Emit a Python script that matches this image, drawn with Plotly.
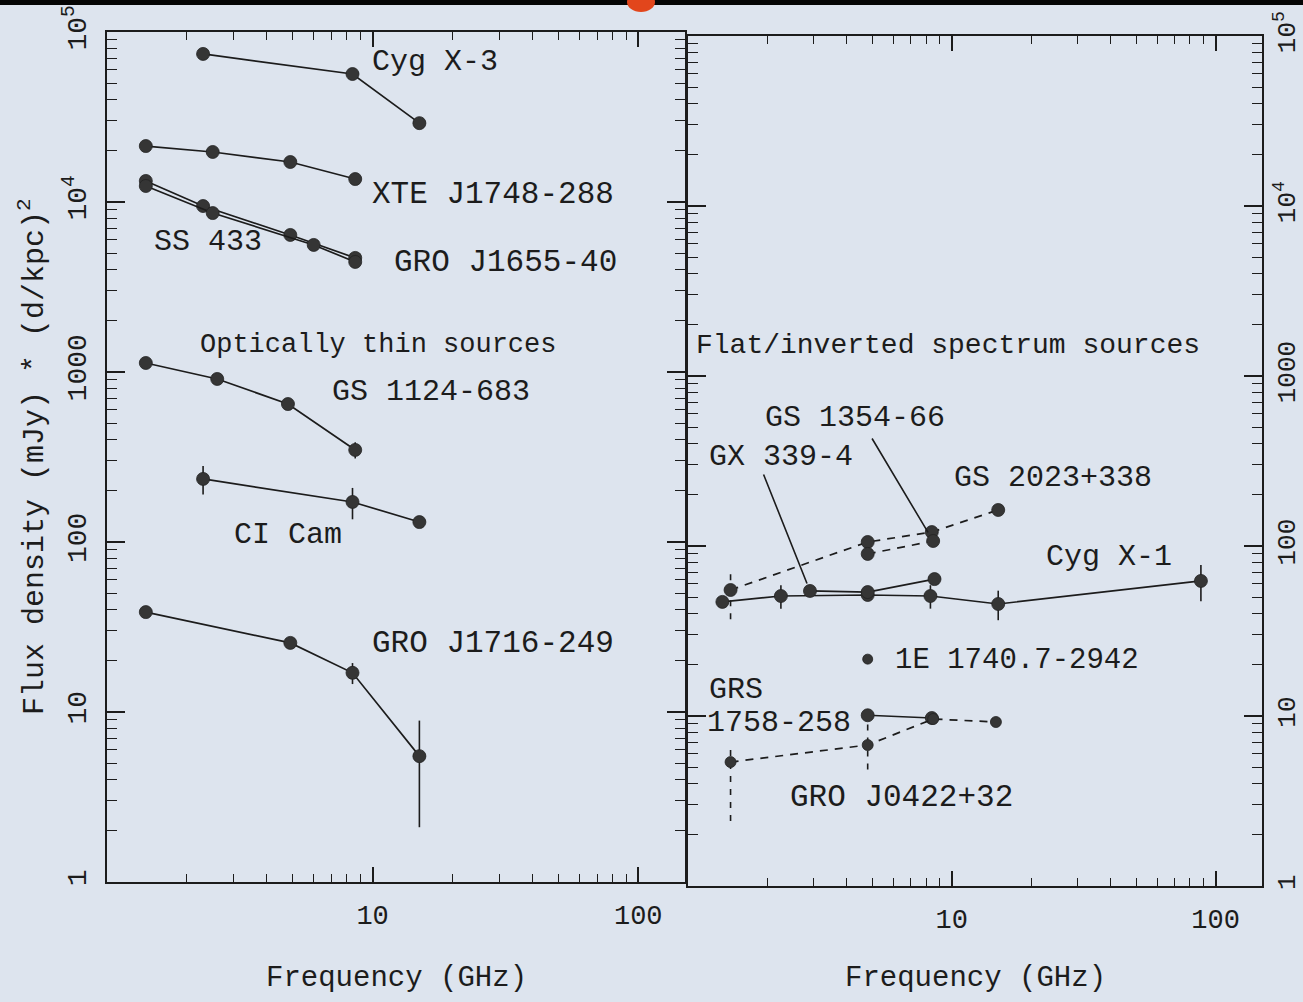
import numpy as np
import plotly.graph_objects as go

W, H = 1303, 1002
INK = "#1c1c1c"
DOT = "#353535"
PAPER = "#dde4ee"
FONT = "Liberation Mono, Courier New, monospace"

# ---------------- optically thin sources (left panel) ----------------
# frequency in GHz, flux density in mJy * (d/kpc)^2
cygx3_f = [2.3, 8.4, 15]
cygx3_s = [74300, 56600, 29100]

xte1748_f = [1.4, 2.5, 4.9, 8.6]
xte1748_s = [21340, 19690, 17190, 13650]

ss433_f = [1.4, 2.3, 4.9, 8.6]
ss433_s = [13300, 9470, 6400, 4690]

gro1655_f = [1.4, 2.5, 6.0, 8.6]
gro1655_s = [12420, 8610, 5590, 4440]

gs1124_f = [1.4, 2.6, 4.8, 8.6]
gs1124_s = [1130, 910, 648, 348]
gs1124_e = [0, 0, 0, 38]

cicam_f = [2.3, 8.4, 15]
cicam_s = [235, 172, 131]
cicam_e = [45, 36, 0]

gro1716_f = [1.4, 4.9, 8.4, 15]
gro1716_s = [38.7, 25.5, 17.0, 5.5]
gro1716_e = [3.0, 0, 2.4, 3.4]

# ---------------- flat / inverted spectrum sources (right panel) ----------------
cygx1_f = [1.35, 2.25, 4.8, 8.3, 15, 88]
cygx1_s = [46.9, 50.8, 51.5, 50.8, 45.6, 62.3]
cygx1_e = [0, 8, 0, 8, 9, 15]

gx339_f = [2.9, 4.8, 8.6]
gx339_s = [54.4, 53.6, 63.9]

gs2023_f = [1.45, 4.8, 8.4, 15]
gs2023_s = [55.1, 105.6, 120.8, 162.9]
gs2023_ep = [18, 0, 0, 0]
gs2023_em = [18, 0, 0, 0]

gs1354_f = [4.8, 8.5]
gs1354_s = [89.8, 107]

e1740_f = [4.8]
e1740_s = [21.6]

grs1758_f = [4.8, 8.4]
grs1758_s = [10.1, 9.73]

gro0422_f = [1.45, 4.8, 8.5, 14.7]
gro0422_s = [5.36, 6.75, 9.6, 9.22]
gro0422_ep = [1.5, 2.2, 0, 0]
gro0422_em = [2.95, 1.9, 0, 0]

y_ticks = [1, 10, 100, 1000, 1e4, 1e5]
y_text = ["1", "10", "100", "1000", "10<sup>4</sup>", "10<sup>5</sup>"]
x_ticks = [10, 100]
x_text = ["10", "100"]

fig = go.Figure()


def add_series(f, s, xa, ya, dash="solid", err=None, size=13, show_line=True):
    tr = dict(
        x=f, y=s, xaxis=xa, yaxis=ya,
        mode="lines+markers" if show_line else "markers",
        line=dict(color=INK, width=1.7, dash=dash),
        marker=dict(color=DOT, size=size, line=dict(width=0.8, color="#222")),
        showlegend=False, hoverinfo="x+y",
    )
    if err is not None:
        tr["error_y"] = dict(type="data", array=err, visible=True, color=INK,
                             thickness=1.6, width=0)
    fig.add_trace(go.Scatter(**tr))


def add_dashed_errors(f, s, ep, em, xa, ya):
    # vertical dashed error bars for the dashed-line sources
    for fi, si, p, m in zip(f, s, ep, em):
        if p == 0 and m == 0:
            continue
        fig.add_trace(go.Scatter(
            x=[fi, fi], y=[si - m, si + p], xaxis=xa, yaxis=ya, mode="lines",
            line=dict(color=INK, width=1.6, dash="6px,7px"),
            showlegend=False, hoverinfo="skip"))


# left panel
add_series(cygx3_f, cygx3_s, "x", "y")
add_series(xte1748_f, xte1748_s, "x", "y")
add_series(ss433_f, ss433_s, "x", "y")
add_series(gro1655_f, gro1655_s, "x", "y")
add_series(gs1124_f, gs1124_s, "x", "y", err=gs1124_e)
add_series(cicam_f, cicam_s, "x", "y", err=cicam_e)
add_series(gro1716_f, gro1716_s, "x", "y", err=gro1716_e)

# right panel
add_dashed_errors(gs2023_f, gs2023_s, gs2023_ep, gs2023_em, "x2", "y2")
add_dashed_errors(gro0422_f, gro0422_s, gro0422_ep, gro0422_em, "x2", "y2")
add_series(cygx1_f, cygx1_s, "x2", "y2", err=cygx1_e)
add_series(gx339_f, gx339_s, "x2", "y2")
add_series(gs2023_f, gs2023_s, "x2", "y2", dash="8px,7px")
add_series(gs1354_f, gs1354_s, "x2", "y2", dash="8px,7px")
add_series(e1740_f, e1740_s, "x2", "y2", size=10, show_line=False)
add_series(grs1758_f, grs1758_s, "x2", "y2")
add_series(gro0422_f, gro0422_s, "x2", "y2", dash="8px,7px", size=11)


def xaxis_cfg(domain):
    return dict(
        type="log", range=[0, np.log10(150)], domain=domain, automargin=False,
        tickmode="array", tickvals=x_ticks, ticktext=x_text,
        ticks="inside", ticklen=15, tickwidth=1.6, tickcolor=INK,
        showline=True, linecolor=INK, linewidth=2, mirror="ticks",
        showgrid=False, zeroline=False, ticklabelstandoff=8,
        tickfont=dict(family=FONT, size=27, color=INK),
        minor=dict(ticks="inside", ticklen=8, tickwidth=1.4, tickcolor=INK,
                   dtick="D1", showgrid=False),
    )


def yaxis_cfg(domain, anchor, side, standoff, size):
    return dict(
        type="log", range=[0, 5], domain=domain, anchor=anchor, side=side,
        automargin=False,
        tickmode="array", tickvals=y_ticks, ticktext=y_text, tickangle=-90,
        ticks="inside", ticklen=18, tickwidth=1.6, tickcolor=INK,
        showline=True, linecolor=INK, linewidth=2, mirror="ticks",
        showgrid=False, zeroline=False, ticklabelstandoff=standoff,
        tickfont=dict(family=FONT, size=size, color=INK),
        minor=dict(ticks="inside", ticklen=10, tickwidth=1.4, tickcolor=INK,
                   dtick="D1", showgrid=False),
    )


def P(px, py):
    return px / W, 1 - py / H


annotations = []


def label(text, left, cy, size=30, angle=0, xanchor="left"):
    x, y = P(left, cy)
    annotations.append(dict(
        text=text, x=x, y=y, xref="paper", yref="paper", xanchor=xanchor,
        yanchor="middle", showarrow=False, textangle=angle,
        font=dict(family=FONT, size=size, color=INK)))


# left panel labels
label("Cyg X-3", 370, 62)
label("XTE J1748-288", 370, 194, size=31)
label("SS 433", 152, 242)
label("GRO J1655-40", 392, 262, size=31)
label("Optically thin sources", 198, 345, size=27)
label("GS 1124-683", 330, 392)
label("CI Cam", 232, 535)
label("GRO J1716-249", 370, 643, size=31)

# right panel labels
label("Flat/inverted spectrum sources", 694, 345, size=28)
label("GS 1354-66", 763, 418)
label("GX 339-4", 707, 457)
label("GS 2023+338", 952, 478)
label("Cyg X-1", 1044, 557)
label("1E 1740.7-2942", 893, 660, size=29)
label("GRS", 707, 690)
label("1758-258", 705, 723)
label("GRO J0422+32", 788, 797, size=31)

# axis titles
label("Frequency (GHz)", 396, 978, size=29, xanchor="center")
label("Frequency (GHz)", 975, 978, size=29, xanchor="center")
label("Flux density (mJy) * (d/kpc)<sup>2</sup>", 33, 457, size=30, angle=-90,
      xanchor="center")

# pointer lines from labels to their spectra
annotations.append(dict(
    x=np.log10(gx339_f[0]), y=np.log10(gx339_s[0]), xref="x2", yref="y2",
    text="", showarrow=True, arrowhead=0, arrowwidth=1.6, arrowcolor=INK,
    ax=-47, ay=-118, standoff=8))
annotations.append(dict(
    x=np.log10(gs1354_f[1]), y=np.log10(gs1354_s[1]), xref="x2", yref="y2",
    text="", showarrow=True, arrowhead=0, arrowwidth=1.6, arrowcolor=INK,
    ax=-62, ay=-104, standoff=10))

shapes = [
    # dark strip along the top edge and a red mark near it
    dict(type="rect", xref="paper", yref="paper", x0=0, x1=1, y0=1 - 5 / H, y1=1,
         fillcolor="#050505", line=dict(width=0), layer="above"),
    dict(type="circle", xref="paper", yref="paper",
         x0=627 / W, x1=655 / W, y0=1 - 12 / H, y1=1 + 8 / H,
         fillcolor="#e2461c", line=dict(width=0), layer="above"),
]

fig.update_layout(
    width=W, height=H,
    margin=dict(l=0, r=0, t=0, b=0, autoexpand=False),
    paper_bgcolor=PAPER, plot_bgcolor=PAPER,
    xaxis=xaxis_cfg([107 / W, 685 / W]) | dict(anchor="y"),
    yaxis=yaxis_cfg([1 - 882 / H, 1 - 32 / H], "x", "left", 8, 28),
    xaxis2=xaxis_cfg([688 / W, 1262 / W]) | dict(anchor="y2"),
    yaxis2=yaxis_cfg([1 - 886 / H, 1 - 36 / H], "x2", "right", 0, 26),
    annotations=annotations,
    shapes=shapes,
    font=dict(family=FONT, color=INK),
)

fig.write_html("out.html")
